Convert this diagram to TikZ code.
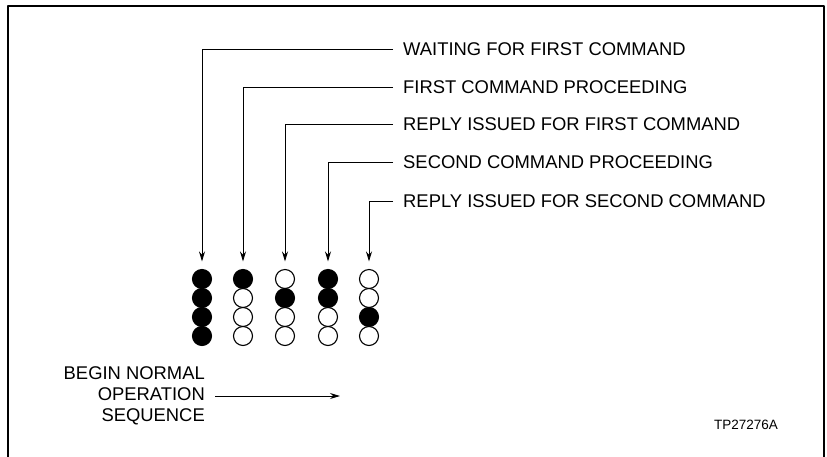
\documentclass[tikz,border=0pt]{standalone}
\usepackage{fontspec}
\setmainfont{Liberation Sans}
\usetikzlibrary{arrows.meta}
\begin{document}
\begin{tikzpicture}[x=1pt,y=-1pt,line join=round,>={Stealth[length=10pt,width=6pt]},
	lbl/.style={anchor=west,inner sep=0pt,font=\fontsize{18.4}{21}\selectfont},
	dot/.style={circle,draw,line width=1.1pt,minimum size=19pt,inner sep=0pt}]
	\useasboundingbox (0,0) rectangle (827,456);
	\draw[line width=1.5pt] (8,460) -- (8,6) -- (824,6) -- (824,460);
	\foreach \i/\xc/\yl/\txt/\st in {1/202/49/WAITING FOR FIRST COMMAND/{1,1,1,1},
		2/243/87/FIRST COMMAND PROCEEDING/{1,0,0,0},
		3/285/124/REPLY ISSUED FOR FIRST COMMAND/{0,1,0,0},
		4/328/162/SECOND COMMAND PROCEEDING/{1,1,0,0},
		5/369/201/REPLY ISSUED FOR SECOND COMMAND/{0,0,1,0}}{
		\node[lbl] (l\i) at (403,\yl) {\txt};
		\foreach \s [count=\j] in \st {
			\ifnum\s=1 \def\fc{black}\else\def\fc{white}\fi
			\node[dot,fill=\fc] (c\i-\j) at (\xc,260+19*\j) {};
		}
		\draw[->,line width=0.9pt,shorten >=7.5pt] ([xshift=-10pt]l\i.west) -| (c\i-1.north);
	}
	\node[lbl,anchor=east,align=right] (seq) at (205,396) {BEGIN NORMAL\\OPERATION\\SEQUENCE};
	\coordinate (seqend) at (340,396);
	\draw[->,line width=0.9pt] ([xshift=10pt]seq.east) -- (seqend);
	\node[font=\fontsize{13.5}{16}\selectfont] (tp) at (746,425) {TP27276A};
\end{tikzpicture}
\end{document}
